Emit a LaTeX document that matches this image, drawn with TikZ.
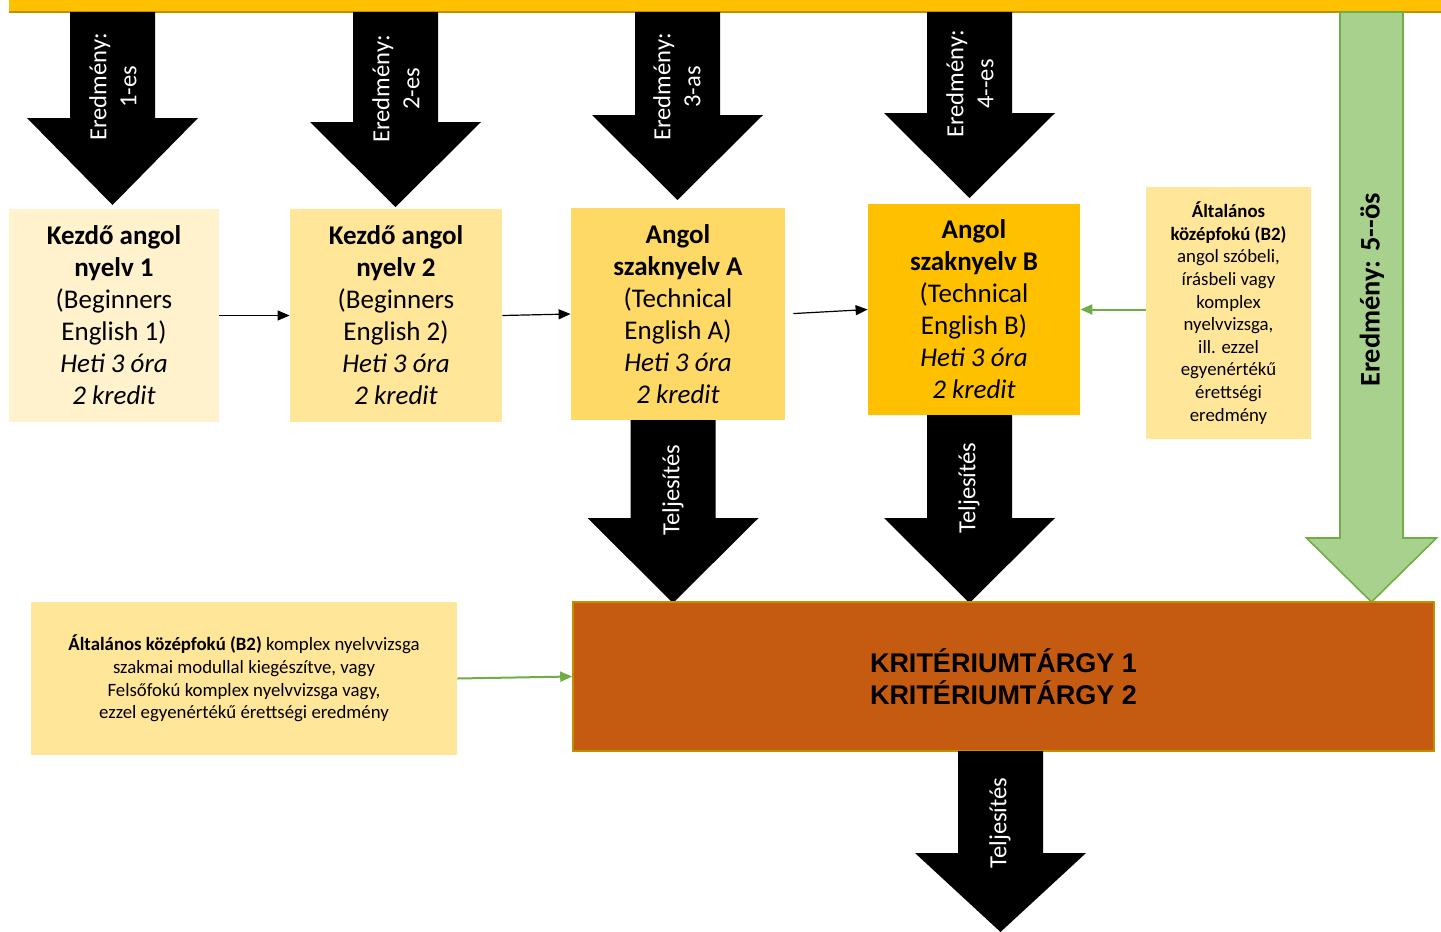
\documentclass[tikz,border=0pt]{standalone}
\usepackage{fontspec}
\setmainfont{Carlito}
\newfontfamily\kritfont{Liberation Sans}
\usetikzlibrary{arrows.meta}
\definecolor{savsarga}{HTML}{FFC000}
\definecolor{savszel}{HTML}{BF9000}
\definecolor{halvany}{HTML}{FFF2CC}
\definecolor{vilagos}{HTML}{FFE699}
\definecolor{kozep}{HTML}{FFD966}
\definecolor{narancs}{HTML}{C55A11}
\definecolor{zoldtolt}{HTML}{A9D18E}
\definecolor{zoldvonal}{HTML}{70AD47}

% block arrow pointing down: {x}{top}{head top}{tip}
\newcommand{\lefelenyil}[4]{%
  \fill[black] ({#1-42.5},#2) -- ({#1+42.5},#2) -- ({#1+42.5},#3) -- ({#1+85.5},#3)
    -- (#1,#4) -- ({#1-85.5},#3) -- ({#1-42.5},#3) -- cycle;}

\tikzset{
  targy/.style={align=center, inner sep=0pt, font=\fontsize{13.5}{16}\selectfont},
  kisdoboz/.style={align=center, inner sep=0pt, font=\fontsize{9.4}{11.3}\selectfont},
  nyilszoveg/.style={align=center, text=white, rotate=90, inner sep=0pt,
    font=\fontsize{12.3}{15}\selectfont},
  kovetkezo/.style={-{Triangle[length=6pt,width=5pt]}, black, line width=0.6pt},
  zoldnyil/.style={-{Triangle[length=6pt,width=5pt]}, zoldvonal, line width=1pt}
}

\begin{document}
\begin{tikzpicture}[x=0.5pt,y=-0.5pt]
  \useasboundingbox (0,0) rectangle (1441,932);

  % top bar
  \fill[savsarga] (9,0) rectangle (1441,12);
  \draw[savszel,line width=1pt] (9,12) -- (1441,12);

  % results arrows
  \lefelenyil{112.5}{12}{118}{205}
  \lefelenyil{395.5}{12}{122}{207}
  \lefelenyil{677.5}{12}{115}{200}
  \lefelenyil{969.5}{12}{113}{198}
  \node[nyilszoveg] (ered1) at (113,87) {Eredmény:\\1-es};
  \node[nyilszoveg] (ered2) at (396,89) {Eredmény:\\2-es};
  \node[nyilszoveg] (ered3) at (677,87) {Eredmény:\\3-as};
  \node[nyilszoveg] (ered4) at (970,84) {Eredmény:\\4-{}-es};

  % green arrow
  \filldraw[fill=zoldtolt,draw=zoldvonal,line width=0.8pt]
    (1340,12) -- (1403,12) -- (1403,538) -- (1436.5,538) -- (1371.5,602)
    -- (1306.5,538) -- (1340,538) -- cycle;
  \node[rotate=90, inner sep=0pt, font=\fontsize{14.2}{17}\selectfont\bfseries]
    (ered5) at (1372,290) {Eredmény: 5-{}-ös};

  % courses
  \node[targy, fill=halvany, minimum width=105pt, minimum height=106.5pt]
    (kezdo1) at (114,315.5)
    {\textbf{Kezdő angol}\\\textbf{nyelv 1}\\(Beginners\\English 1)\\\textit{Heti 3 óra}\\\textit{2 kredit}};
  \node[targy, fill=vilagos, minimum width=106pt, minimum height=106.5pt]
    (kezdo2) at (396,315.5)
    {\textbf{Kezdő angol}\\\textbf{nyelv 2}\\(Beginners\\English 2)\\\textit{Heti 3 óra}\\\textit{2 kredit}};
  \node[targy, fill=kozep, minimum width=107pt, minimum height=106pt]
    (szakA) at (678,314)
    {\textbf{Angol}\\\textbf{szaknyelv A}\\(Technical\\English A)\\\textit{Heti 3 óra}\\\textit{2 kredit}};
  \node[targy, fill=savsarga, minimum width=106pt, minimum height=105.5pt]
    (szakB) at (974,309.5)
    {\textbf{Angol}\\\textbf{szaknyelv B}\\(Technical\\English B)\\\textit{Heti 3 óra}\\\textit{2 kredit}};
  \node[kisdoboz, fill=vilagos, minimum width=82.5pt, minimum height=126pt]
    (vizsgaB) at (1228.5,313)
    {\textbf{Általános}\\\textbf{középfokú (B2)}\\angol szóbeli,\\írásbeli vagy\\komplex\\nyelvvizsga,\\ill. ezzel\\egyenértékű\\érettségi\\eredmény};

  \draw[kovetkezo] (kezdo1.east) -- (kezdo2.west);
  \draw[kovetkezo] (kezdo2.east) -- (szakA.west);
  \draw[kovetkezo,shorten <=4pt] (szakA.east) -- (szakB.west);
  \draw[zoldnyil] (vizsgaB.west |- szakB.east) -- (szakB.east);

  % completion arrows
  \lefelenyil{673}{420}{518}{603}
  \lefelenyil{969.5}{415}{518}{603}
  \node[nyilszoveg] (telj1) at (673,490) {Teljesítés};
  \node[nyilszoveg] (telj2) at (969,488) {Teljesítés};

  % criteria
  \node[fill=narancs, draw=savszel, line width=0.8pt, minimum width=430.5pt,
    minimum height=74.5pt, align=center, inner sep=0pt,
    font=\kritfont\fontsize{13.5}{16}\selectfont\bfseries]
    (krit) at (1003.5,676.5) {KRITÉRIUMTÁRGY 1\\KRITÉRIUMTÁRGY 2};
  \node[kisdoboz, fill=vilagos, minimum width=213pt, minimum height=76.5pt]
    (felso) at (244,678.5)
    {\textbf{Általános középfokú (B2)} komplex nyelvvizsga\\szakmai modullal kiegészítve, vagy\\Felsőfokú komplex nyelvvizsga vagy,\\ezzel egyenértékű érettségi eredmény};
  \draw[zoldnyil] (felso.east) -- (krit.west);

  \lefelenyil{1000.5}{751}{853}{932}
  \node[nyilszoveg] (telj3) at (1000,823) {Teljesítés};
\end{tikzpicture}
\end{document}
